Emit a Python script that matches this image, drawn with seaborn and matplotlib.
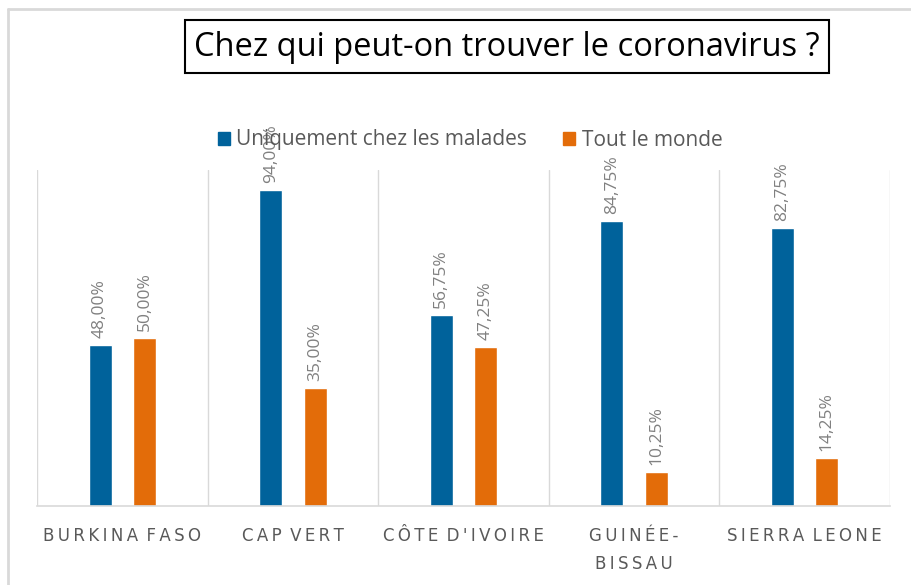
import pandas as pd
import matplotlib.pyplot as plt
import seaborn as sns
from matplotlib.lines import Line2D

# données
pays = ["BURKINA FASO", "CAP VERT", "CÔTE D'IVOIRE", "GUINÉE-\nBISSAU", "SIERRA LEONE"]
malades = [48.00, 94.00, 56.75, 84.75, 82.75]
tout_le_monde = [50.00, 35.00, 47.25, 10.25, 14.25]
series = ["Uniquement chez les malades", "Tout le monde"]
couleurs = ["#00629B", "#E36C09"]

df = pd.DataFrame({
    "pays": pays * 2,
    "valeur": malades + tout_le_monde,
    "reponse": [series[0]] * len(pays) + [series[1]] * len(pays),
})

sns.set_style("white")
plt.rcParams["font.family"] = ["Open Sans", "DejaVu Sans"]
gris = "#595959"

fig = plt.figure(figsize=(9.12, 5.85), dpi=100)
ax = fig.add_axes([37 / 912, 79 / 585, 853 / 912, 336 / 585])

sns.barplot(data=df, x="pays", y="valeur", hue="reponse", palette=couleurs,
            saturation=1, width=0.52, gap=0.48, ax=ax, legend=False)

for cont in ax.containers:
    ax.bar_label(cont, labels=[f"{v:.2f}".replace(".", ",") + "%" for v in cont.datavalues],
                 rotation=90, padding=5, color="#808080", fontsize=12.5)

ax.set_ylim(0, 100)
ax.set_xlim(-0.5, len(pays) - 0.5)
ax.set_yticks([])
ax.set_xlabel("")
ax.set_ylabel("")

# séparateurs verticaux entre catégories
for i in range(len(pays) + 1):
    ax.axvline(i - 0.5, color="#D9D9D9", lw=1, zorder=0)
for s in ["top", "left", "right"]:
    ax.spines[s].set_visible(False)
ax.spines["bottom"].set_color("#D9D9D9")
ax.spines["bottom"].set_linewidth(1.2)

def espace(t):
    # lettres espacées comme dans Excel
    lignes = []
    for ligne in t.split("\n"):
        lignes.append("\u2002".join("\u2009".join(mot) for mot in ligne.split(" ")))
    return "\n".join(lignes)

ax.set_xticks(range(len(pays)))
ax.set_xticklabels([espace(p) for p in pays], color=gris, fontsize=12,
                   family=["DejaVu Sans"], linespacing=1.75)
ax.tick_params(axis="x", length=0, pad=15)

handles = [plt.Rectangle((0, 0), 1, 1, color=c) for c in couleurs]
fig.legend(handles, series, loc="center", bbox_to_anchor=(470 / 912, 1 - 140 / 585),
           ncol=2, frameon=False, fontsize=15, labelcolor=gris,
           handlelength=0.6, handleheight=0.6, handletextpad=0.3, columnspacing=1.7)

# titre encadré
fig.add_artist(plt.Rectangle((185 / 912, 1 - 73 / 585), 644 / 912, 53 / 585,
                             transform=fig.transFigure, fc="white", ec="black", lw=1.5))
fig.text(507 / 912, 1 - 47 / 585, "Chez qui peut-on trouver le coronavirus ?",
         ha="center", va="center", fontsize=23.5, color="black")

# cadre gris clair du graphique
fig.add_artist(Line2D([8 / 912, 1], [1 - 9 / 585] * 2, color="#D9D9D9", lw=2))
fig.add_artist(Line2D([8 / 912] * 2, [0, 1 - 9 / 585], color="#D9D9D9", lw=2))

fig.savefig("out.png", dpi=100)
